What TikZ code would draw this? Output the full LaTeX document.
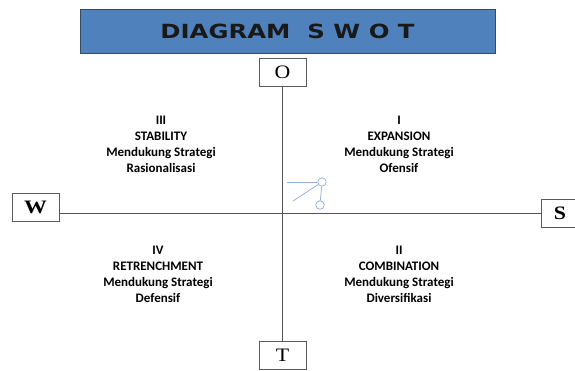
\documentclass[tikz,border=0pt]{standalone}
\usepackage{fontspec}
\setmainfont{Liberation Serif}
\newfontfamily\quadfont{Carlito}
\newfontfamily\titlefont{DejaVu Sans}
\definecolor{titleblue}{HTML}{4F81BD}
\definecolor{titleedge}{HTML}{3A4A5E}
\definecolor{boxedge}{HTML}{5A5A5A}
\definecolor{axisgray}{HTML}{555555}
\definecolor{figblue}{HTML}{95B3D7}
\newcommand\wide[2]{\scalebox{#1}[1]{#2}}
\begin{document}
\begin{tikzpicture}[x=1pt,y=-1pt,
  titlebox/.style={draw=titleedge, fill=titleblue, line width=1pt,
    minimum width=415pt, minimum height=44pt, inner sep=0pt,
    font=\titlefont\bfseries\fontsize{19.5}{19.5}\selectfont, text=black!90},
  axisbox/.style={draw=boxedge, fill=white, line width=0.9pt,
    minimum width=47pt, minimum height=28pt, inner sep=0pt},
  regletter/.style={font=\fontsize{19}{19}\selectfont},
  boldletter/.style={font=\bfseries\fontsize{19}{19}\selectfont},
  quadtext/.style={align=center, inner sep=0pt,
    font=\quadfont\bfseries\fontsize{13}{16}\selectfont},
  axisline/.style={draw=axisgray, line width=0.9pt},
  figline/.style={draw=figblue, line width=0.8pt},
  dot/.style={circle, draw=figblue, fill=white, line width=0.8pt,
    minimum size=8.5pt, inner sep=0pt}
]
\useasboundingbox (0,0) rectangle (575,370);
\clip (0,0) rectangle (575,370);

% heading bar
\node[titlebox] (title) at (287.5,31) {\wide{1.25}{DIAGRAM\ \ S W O T}};

% boxes at the ends of the two axes
\node[axisbox, regletter] (O) at (282.5,72.5) {\wide{1.15}{O}};
\node[axisbox, regletter] (T) at (282.5,355) {\wide{1.15}{T}};
\node[axisbox, boldletter] (W) at (35.5,207) {\wide{1.2}{W}};
\node[axisbox] (S) at (564.5,213) {};
\node[boldletter, inner sep=0pt] (Slabel) at (560,213) {\wide{1.15}{S}};

% axes
\draw[axisline] (W.east |- S.west) -- (S.west);
\draw[axisline] (O.south) -- (T.north);

% quadrant captions
\node[quadtext] (q3) at (161,145) {\begin{tabular}{@{}c@{}}III\\STABILITY\\Mendukung Strategi\\Rasionalisasi\end{tabular}};
\node[quadtext] (q1) at (399,145) {\begin{tabular}{@{}c@{}}I\\EXPANSION\\Mendukung Strategi\\Ofensif\end{tabular}};
\node[quadtext] (q4) at (158,275) {\begin{tabular}{@{}c@{}}IV\\RETRENCHMENT\\Mendukung Strategi\\Defensif\end{tabular}};
\node[quadtext] (q2) at (399,275) {\begin{tabular}{@{}c@{}}II\\COMBINATION\\Mendukung Strategi\\Diversifikasi\end{tabular}};

% small position marker
\coordinate (hstart) at (287,182);
\coordinate (dstart) at (293,201);
\node[dot] (d1) at (322,182) {};
\node[dot] (d2) at (320,205) {};
\draw[figline] (hstart) -- (d1);
\draw[figline] (dstart) -- (d1);
\draw[figline] (d1) -- (d2);
\end{tikzpicture}
\end{document}
